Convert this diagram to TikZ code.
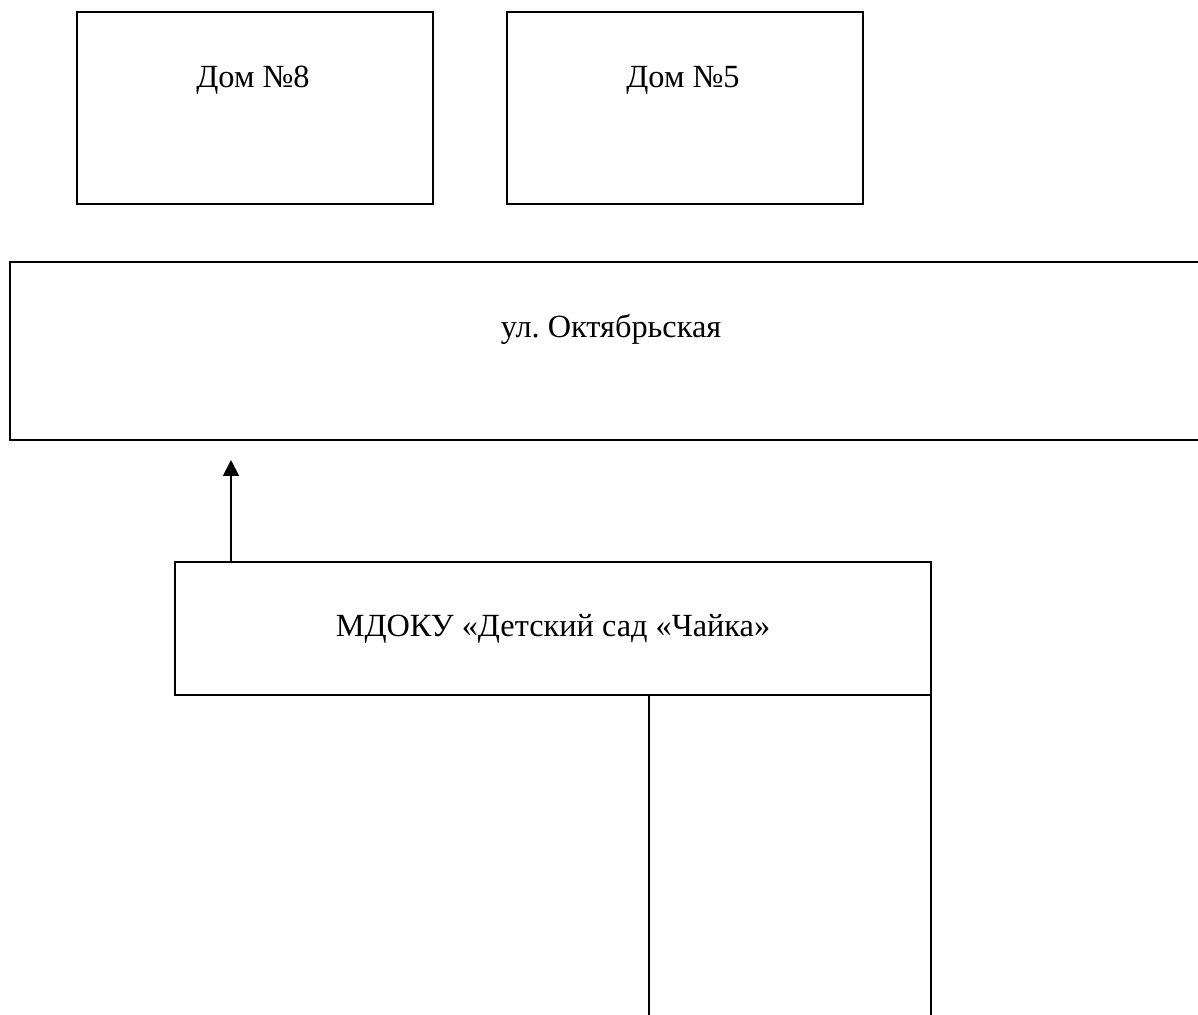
\documentclass[tikz,border=0pt]{standalone}
\usepackage{fontspec}
\setmainfont{Liberation Serif}
\usetikzlibrary{arrows.meta, positioning}

\begin{document}
\begin{tikzpicture}[x=0.02cm, y=-0.02cm, line width=1.1pt,
    plot/.style={draw, minimum width=#1*0.02cm, inner sep=0pt, outer sep=0pt},
    caption/.style={font=\fontsize{18.4}{22}\selectfont}]
  \useasboundingbox (0,0) rectangle (1198,1015);

  % Houses
  \node[plot=356, minimum height=3.84cm] (dom8) at (255,108) {};
  \node[plot=356, minimum height=3.84cm] (dom5) at (685,108) {};
  \node[caption] (dom8text) at (253,80) {Дом №8};
  \node[caption] (dom5text) at (683,80) {Дом №5};

  % Street (open to the right)
  \node[minimum width=1210*0.02cm, minimum height=3.56cm, inner sep=0pt, outer sep=0pt] (street) at (615,351) {};
  \node[caption] (streettext) at (611,329) {ул.\ Октябрьская};
  \draw (street.north east) -- (street.north west) -- (street.south west) -- (street.south east);

  % Kindergarten
  \node[plot=756, minimum height=2.66cm, caption] (sad) at (553,628.5) {МДОКУ «Детский сад «Чайка»};
  \coordinate (exit) at (231,460);
  \draw[-{Triangle[length=9pt, width=9pt]}] (sad.north west -| exit) -- (exit);

  % Yard
  \coordinate (yardleft) at (649,1015);
  \coordinate (yardright) at (931,1015);
  \draw (sad.south west -| yardleft) -- (yardleft);
  \draw (sad.south east) -- (sad.south east |- yardright);
\end{tikzpicture}
\end{document}
